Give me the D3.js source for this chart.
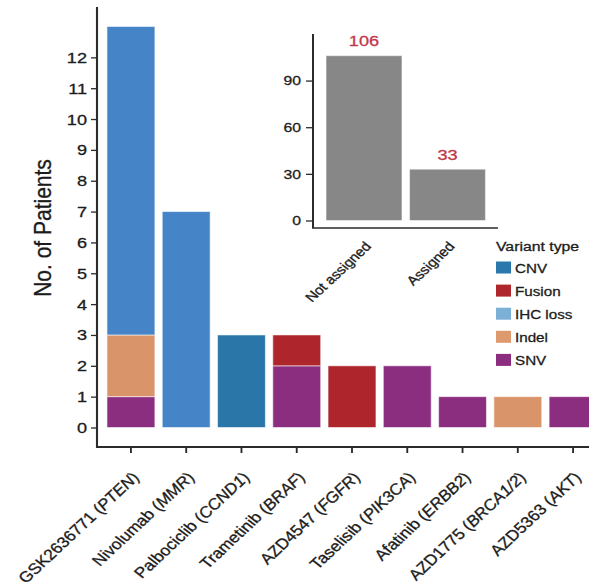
<!DOCTYPE html>
<html>
<head>
<meta charset="utf-8">
<script src="https://cdn.jsdelivr.net/npm/d3@7"></script>
<style>
  html, body { margin: 0; padding: 0; background: #fff; }
  svg { display: block; }
  text { font-family: "Liberation Sans", Arial, Helvetica, sans-serif; fill: #1c1c1c;
         stroke: #1c1c1c; stroke-width: 0.3px; }
</style>
</head>
<body>
<div id="chart"></div>
<script>
// Drugs (arm) and their molecular target
const drugNames = ["GSK2636771", "Nivolumab", "Palbociclib", "Trametinib", "AZD4547",
                   "Taselisib", "Afatinib", "AZD1775", "AZD5363"];
const targets   = ["PTEN", "MMR", "CCND1", "BRAF", "FGFR", "PIK3CA", "ERBB2", "BRCA1/2", "AKT"];

// Patients per drug, split by variant type
const variantTypes = ["CNV", "Fusion", "IHC loss", "Indel", "SNV"];
const cnv     = [0, 0, 3, 0, 0, 0, 0, 0, 0];
const fusion  = [0, 0, 0, 1, 2, 0, 0, 0, 0];
const ihcLoss = [10, 7, 0, 0, 0, 0, 0, 0, 0];
const indel   = [2, 0, 0, 0, 0, 0, 0, 1, 0];
const snv     = [1, 0, 0, 2, 0, 2, 1, 0, 1];
const yTicks  = [0, 1, 2, 3, 4, 5, 6, 7, 8, 9, 10, 11, 12];

// Inset: assignment summary
const assignCats   = ["Not assigned", "Assigned"];
const assignValues = [106, 33];
const insetTicks   = [0, 30, 60, 90];

// Colours
const barColor    = { "CNV": "#2b76a9", "Fusion": "#ae252c", "IHC loss": "#4584c6", "Indel": "#da946a", "SNV": "#8c2e80" };
const legendColor = { "CNV": "#2b78ad", "Fusion": "#b0262d", "IHC loss": "#7cb0d6", "Indel": "#de9a6f", "SNV": "#8c2e80" };
const stackOrder  = ["SNV", "Indel", "Fusion", "CNV", "IHC loss"];

// The drawing is laid out on a horizontally condensed canvas that is stretched to the window width
const W = 589, H = 586, K = 1.17;
const px = v => v / K;
const labelAngle = -47.5;

const rows = drugNames.map((d, i) => ({
  drug: d,
  "CNV": cnv[i], "Fusion": fusion[i], "IHC loss": ihcLoss[i], "Indel": indel[i], "SNV": snv[i]
}));

const svg = d3.select("#chart").append("svg")
  .attr("width", W).attr("height", H)
  .attr("viewBox", `0 0 ${W / K} ${H}`)
  .attr("preserveAspectRatio", "none");

const axisColor = "#2b2b2b";

// ---------- main stacked bar chart ----------
const x = d3.scaleBand().domain(drugNames)
  .range([px(97), px(607)]).paddingInner(0.132).paddingOuter(0.18);
const y = d3.scaleLinear().domain([0, 13]).range([427.5, 26.5]);

const stack = d3.stack().keys(stackOrder)(rows);

svg.append("g").selectAll("g").data(stack).join("g")
  .attr("fill", s => barColor[s.key])
  .selectAll("rect").data(s => s.filter(p => p[1] > p[0])).join("rect")
  .attr("x", p => x(p.data.drug))
  .attr("width", x.bandwidth())
  .attr("y", p => y(p[1]))
  .attr("height", p => y(p[0]) - y(p[1]))
  .attr("stroke", "#ffffff").attr("stroke-opacity", 0.55).attr("stroke-width", 1);

// y axis
const yAxis = svg.append("g").attr("transform", `translate(${px(97)},0)`)
  .call(d3.axisLeft(y).tickValues(yTicks).tickFormat(d3.format("d"))
    .tickSize(px(6)).tickPadding(px(4)));
yAxis.select(".domain").remove();
yAxis.selectAll("line").attr("stroke", axisColor).attr("stroke-width", 1.3);
yAxis.selectAll("text").attr("font-size", 15.5).attr("font-family", "Liberation Sans, Arial, sans-serif")
  .attr("fill", "#1c1c1c");

// x axis ticks
const xAxis = svg.append("g").attr("transform", "translate(0,447)")
  .call(d3.axisBottom(x).tickSize(6).tickFormat(""));
xAxis.select(".domain").remove();
xAxis.selectAll("line").attr("stroke", axisColor).attr("stroke-width", 1.6);

// axis frame
svg.append("path")
  .attr("d", `M${px(97)},7V447H${W / K}`)
  .attr("fill", "none").attr("stroke", axisColor).attr("stroke-width", 1.8);

// rotated drug labels
const xl = svg.append("g").selectAll("text").data(drugNames).join("text")
  .attr("transform", d => `translate(${x(d) + x.bandwidth() / 2 + px(9)},478) rotate(${labelAngle})`)
  .attr("text-anchor", "end")
  .attr("font-size", 15);
xl.append("tspan").text(d => d + " (");
xl.append("tspan").attr("font-style", "italic").text((d, i) => targets[i]);
xl.append("tspan").text(")");

// y title
svg.append("text")
  .attr("transform", `translate(${px(51)},228) rotate(-90)`)
  .attr("text-anchor", "middle")
  .attr("font-size", 21)
  .text("No. of Patients");

// ---------- inset: assigned vs not assigned ----------
const xi = d3.scaleBand().domain(assignCats)
  .range([px(326), px(485.5)]).paddingInner(0.09).paddingOuter(0);
const yi = d3.scaleLinear().domain([0, 106]).range([220.5, 55.7]);

svg.append("g").selectAll("rect").data(assignCats).join("rect")
  .attr("x", d => xi(d))
  .attr("width", xi.bandwidth())
  .attr("y", (d, i) => yi(assignValues[i]))
  .attr("height", (d, i) => yi(0) - yi(assignValues[i]))
  .attr("fill", "#878787")
  .attr("stroke", "#ffffff").attr("stroke-opacity", 0.5).attr("stroke-width", 1);

svg.append("g").selectAll("text").data(assignCats).join("text")
  .attr("x", d => xi(d) + xi.bandwidth() / 2)
  .attr("y", (d, i) => yi(assignValues[i]) - 9.5)
  .attr("text-anchor", "middle")
  .attr("font-size", 15.5)
  .style("fill", "#c1374a").style("stroke", "#c1374a")
  .text((d, i) => assignValues[i]);

const yiAxis = svg.append("g").attr("transform", `translate(${px(313)},0)`)
  .call(d3.axisLeft(yi).tickValues(insetTicks).tickSize(px(7)).tickPadding(px(5)));
yiAxis.select(".domain").remove();
yiAxis.selectAll("line").attr("stroke", axisColor).attr("stroke-width", 1.3);
yiAxis.selectAll("text").attr("font-size", 13.5).attr("font-family", "Liberation Sans, Arial, sans-serif")
  .attr("fill", "#1c1c1c");

svg.append("path")
  .attr("d", `M${px(313)},34V228H${px(498)}`)
  .attr("fill", "none").attr("stroke", axisColor).attr("stroke-width", 1.7);

svg.append("g").selectAll("text").data(assignCats).join("text")
  .attr("transform", d => `translate(${xi(d) + xi.bandwidth() / 2 + px(8)},247) rotate(${labelAngle})`)
  .attr("text-anchor", "end")
  .attr("font-size", 13)
  .text(d => d);

// ---------- legend ----------
const legend = svg.append("g");
legend.append("text")
  .attr("x", px(496)).attr("y", 251)
  .attr("font-size", 13.5)
  .text("Variant type");

const li = legend.selectAll("g.item").data(variantTypes).join("g")
  .attr("class", "item")
  .attr("transform", (d, i) => `translate(0,${267.5 + 23.1 * i})`);
li.append("rect")
  .attr("x", px(496)).attr("y", -6)
  .attr("width", px(15)).attr("height", 12)
  .attr("fill", d => legendColor[d]);
li.append("text")
  .attr("x", px(515)).attr("y", 5)
  .attr("font-size", 13)
  .text(d => d);
</script>
</body>
</html>
